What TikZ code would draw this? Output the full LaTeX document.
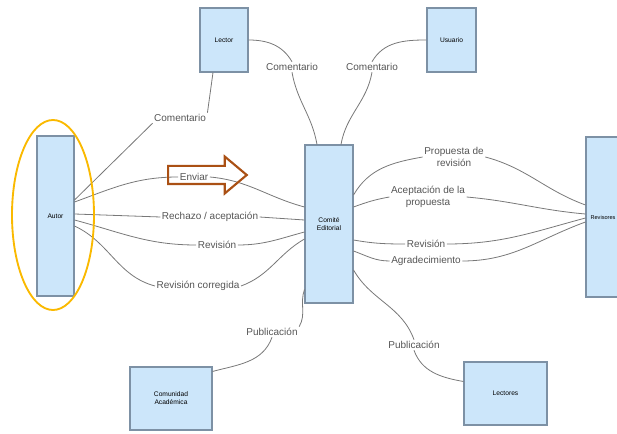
\documentclass[tikz,border=0pt]{standalone}
\usepackage{fontspec}
\setmainfont{Liberation Sans}
\usepackage{tikz}
\usetikzlibrary{shapes,arrows,positioning,calc}
\definecolor{boxfill}{RGB}{204,230,250}
\definecolor{boxline}{RGB}{125,145,165}
\definecolor{linegray}{RGB}{120,120,120}
\definecolor{labelgray}{RGB}{85,85,85}
\definecolor{resalte}{RGB}{250,185,0}
\definecolor{marron}{RGB}{170,80,20}
\tikzset{caja/.style={
    draw=boxline,
    fill=boxfill,
    rectangle,
    line width=0.8pt,
    inner sep=1pt,
    align=center,
    font=\fontsize{5}{6}\selectfont,
  }}
\begin{document}
\begin{tikzpicture}[x=0.75pt,y=-0.75pt,
        etiqueta/.style={
          font=\fontsize{7.5}{8.5}\selectfont, text=labelgray,
          inner sep=1pt, align=center
        },
        enlace/.style={draw=linegray, line width=0.6pt}]

        \useasboundingbox (0,0) rectangle (617,434);

        % Actores
        \node (autor) [caja, minimum width=27.75pt, minimum height=120pt] at (55.5,216) {Autor};
        \node (editor) [caja, minimum width=36pt, minimum height=118.5pt] at (329,224) {Comité\\Editorial};
        \node (revisores) [caja, minimum width=25.5pt, minimum height=120pt,
          font=\fontsize{4.2}{5}\selectfont] at (603,217) {Revisores};
        \node (lector) [caja, minimum width=36pt, minimum height=48pt] at (224,40) {Lector};
        \node (usuario) [caja, minimum width=36.75pt, minimum height=48pt] at (451.5,40) {Usuario};
        \node (comunidad) [caja, minimum width=61.5pt, minimum height=47.25pt] at (171,398.5) {Comunidad\\Académica};
        \node (lectores) [caja, minimum width=62.25pt, minimum height=47.25pt] at (505.5,393.5) {Lectores};

        % Etiquetas
        \node (com1) [etiqueta] at (180,118) {Comentario};
        \node (com2) [etiqueta] at (292,67) {Comentario};
        \node (com3) [etiqueta] at (372,67) {Comentario};
        \node (enviar) [etiqueta] at (194,177) {Enviar};
        \node (rechazo) [etiqueta] at (210,217) {Rechazo / aceptación};
        \node (revision) [etiqueta] at (217,245) {Revisión};
        \node (corregida) [etiqueta] at (198,286) {Revisión corregida};
        \node (propuesta) [etiqueta] at (454,157) {Propuesta de\\revisión};
        \node (aceptacion) [etiqueta] at (428,197) {Aceptación de la\\propuesta};
        \node (revision2) [etiqueta] at (426,244) {Revisión};
        \node (agradece) [etiqueta] at (426,261) {Agradecimiento};
        \node (pub1) [etiqueta] at (272,332) {Publicación};
        \node (pub2) [etiqueta] at (414,345) {Publicación};

        % Autor
        \draw [enlace] ($(autor.east)+(0,-16)$) -- (com1.south west);
        \draw [enlace] (com1.north east) -- ($(lector.south)+(-11,0)$);
        \draw [enlace] ($(autor.east)+(0,-14)$) to[out=20,in=180] (enviar.west);
        \draw [enlace] (enviar.east) to[out=-5,in=165] ($(editor.west)+(0,-17)$);
        \draw [enlace] ($(autor.east)+(0,-2)$) -- (rechazo.west);
        \draw [enlace] (rechazo.east) -- ($(editor.west)+(0,-4)$);
        \draw [enlace] ($(autor.east)+(0,4)$) to[out=-15,in=180] (revision.west);
        \draw [enlace] (revision.east) to[out=0,in=-165] ($(editor.west)+(0,8)$);
        \draw [enlace] ($(autor.east)+(0,10)$) to[out=-25,in=165] (corregida.west);
        \draw [enlace] (corregida.east) to[out=20,in=-150] ($(editor.west)+(0,15)$);

        % Lector y usuario
        \draw [enlace] (lector.east) to[out=0,in=120] (com2.north);
        \draw [enlace] (com2.south) to[out=-80,in=100] ($(editor.north)+(-12,0)$);
        \draw [enlace] (usuario.west) to[out=180,in=60] (com3.north);
        \draw [enlace] (com3.south) to[out=-100,in=80] ($(editor.north)+(12,0)$);

        % Revisores
        \draw [enlace] ($(editor.east)+(0,-29)$) to[out=60,in=190] (propuesta.west);
        \draw [enlace] (propuesta.east) to[out=-15,in=160] ($(revisores.west)+(0,-12)$);
        \draw [enlace] ($(editor.east)+(0,-17)$) to[out=20,in=190] (aceptacion.west);
        \draw [enlace] (aceptacion.east) to[out=-5,in=175] ($(revisores.west)+(0,-3)$);
        \draw [enlace] ($(editor.east)+(0,16)$) to[out=-10,in=180] (revision2.west);
        \draw [enlace] (revision2.east) to[out=0,in=-165] ($(revisores.west)+(0,1)$);
        \draw [enlace] ($(editor.east)+(0,27)$) to[out=-20,in=180] (agradece.west);
        \draw [enlace] (agradece.east) to[out=0,in=-160] ($(revisores.west)+(0,5)$);

        % Publicacion
        \draw [enlace] ($(editor.south west)+(0,-14)$) to[out=-110,in=60] (pub1.north east);
        \draw [enlace] (pub1.south) to[out=-110,in=15] ($(comunidad.north east)+(0,5)$);
        \draw [enlace] ($(editor.east)+(0,46)$) to[out=-60,in=110] (pub2.north);
        \draw [enlace] (pub2.south) to[out=-70,in=170] ($(lectores.west)+(0,-12)$);

        % Resaltado
        \draw [resalte, line width=1.4pt] (53,215) ellipse [x radius=41, y radius=95];
        \node (flecha) [draw=marron, line width=1.6pt, single arrow, single arrow tip angle=80,
          single arrow head extend=7pt, inner sep=6pt, minimum height=59pt] at (202,175) {};

      \end{tikzpicture}
\end{document}
